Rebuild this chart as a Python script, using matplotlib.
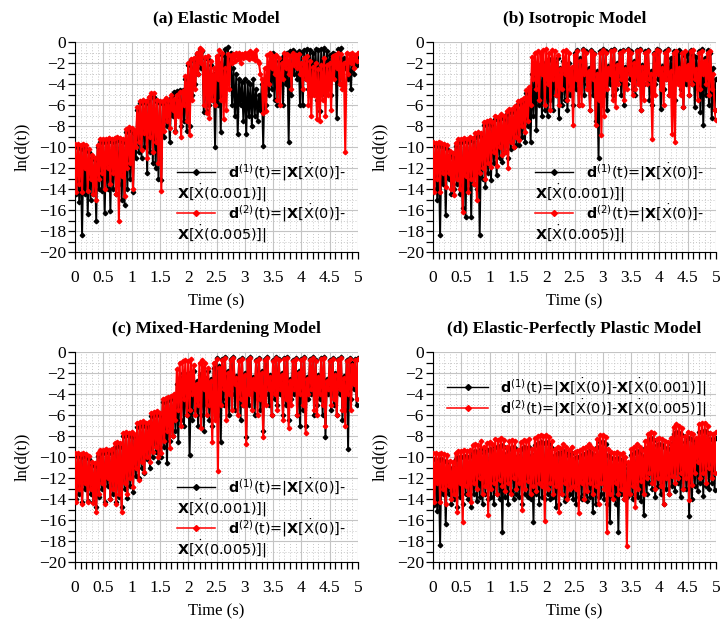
import numpy as np
import matplotlib
matplotlib.use("Agg")
import matplotlib.pyplot as plt
from matplotlib.lines import Line2D
from matplotlib.ticker import MultipleLocator, FuncFormatter

# sample grid: "top" values at 0, 0.05, ..., 5.0 and "low" values half a step later
TIME_TOP = np.round(np.arange(101) * 0.05, 3)
TIME_LOW = np.round(TIME_TOP[:-1] + 0.025, 3)

# ---------------- (a) Elastic model ----------------
elastic_d1_top = [
    -10.0, -10.0, -10.2, -10.0, -10.2, -10.5, -11.0, -11.2, -10.0, -9.5,
    -9.5, -9.5, -9.4, -9.5, -9.4, -9.3, -9.4, -9.5, -8.6, -8.4,
    -8.5, -8.7, -6.5, -5.8, -5.7, -5.8, -5.5, -5.2, -5.2, -5.7,
    -5.8, -5.8, -5.5, -5.7, -5.3, -4.8, -4.7, -4.6, -4.6, -3.5,
    -2.2, -1.7, -1.6, -1.1, -0.7, -0.9, -1.5, -1.6, -2.2, -3.0,
    -2.5, -2.0, -1.2, -0.7, -0.5, -1.0, -2.5, -3.0, -3.5, -3.8,
    -3.5, -3.8, -4.0, -3.5, -4.5, -5.0, -4.0, -3.5, -2.5, -2.0,
    -1.0, -1.3, -1.8, -1.5, -1.2, -1.0, -0.9, -0.8, -1.0, -0.9,
    -1.0, -0.8, -0.7, -0.8, -1.0, -0.7, -0.8, -0.7, -0.6, -0.9,
    -1.2, -1.0, -1.1, -0.7, -0.6, -1.5, -2.5, -2.0, -1.6, -1.5,
    -1.4]
elastic_d1_low = [
    -14.5, -15.2, -18.4, -14.5, -16.4, -15.0, -14.5, -17.0, -14.0, -14.2,
    -16.3, -14.0, -16.1, -14.0, -14.5, -13.5, -15.0, -15.5, -14.0, -13.0,
    -14.3, -11.0, -10.5, -11.0, -10.0, -12.5, -10.5, -11.5, -12.0, -13.0,
    -13.1, -9.0, -8.0, -9.5, -7.0, -8.5, -6.5, -8.0, -7.5, -8.5,
    -8.0, -5.0, -4.0, -3.0, -2.5, -6.7, -6.6, -6.0, -5.5, -10.0,
    -6.0, -8.6, -5.0, -3.0, -2.5, -6.0, -7.0, -8.8, -6.0, -7.5,
    -8.8, -7.0, -8.0, -7.0, -7.5, -6.5, -9.9, -6.0, -5.0, -4.5,
    -5.5, -6.0, -4.0, -6.0, -4.0, -9.5, -5.0, -3.0, -3.5, -6.0,
    -6.0, -3.5, -4.5, -5.0, -3.5, -5.5, -6.6, -4.5, -5.0, -3.0,
    -5.0, -3.0, -7.2, -4.0, -3.0, -2.5, -3.5, -4.5, -3.0, -2.2]
elastic_d2_top = [
    -9.7, -9.7, -9.8, -9.7, -9.8, -10.2, -10.8, -11.0, -9.8, -9.2,
    -9.2, -9.2, -9.1, -9.2, -9.1, -9.0, -9.1, -9.2, -8.3, -8.1,
    -8.2, -8.4, -6.2, -5.6, -5.5, -5.6, -5.2, -4.9, -4.9, -5.5,
    -5.6, -5.6, -5.3, -5.5, -5.0, -5.4, -5.0, -4.8, -4.7, -3.2,
    -2.0, -1.6, -1.5, -1.0, -0.6, -0.8, -1.4, -1.3, -1.8, -2.5,
    -1.3, -0.8, -1.0, -2.5, -1.1, -1.3, -1.1, -1.0, -1.0, -1.1,
    -1.0, -1.0, -0.9, -1.0, -0.8, -2.0, -3.5, -2.5, -1.2, -1.0,
    -1.3, -1.2, -1.5, -2.0, -1.0, -1.1, -1.3, -1.0, -1.2, -1.1,
    -2.0, -1.5, -1.3, -1.8, -2.4, -2.0, -2.6, -2.2, -1.5, -2.2,
    -2.0, -1.3, -1.2, -1.0, -1.1, -2.0, -1.0, -1.1, -1.0, -1.2,
    -1.0]
elastic_d2_low = [
    -14.3, -13.5, -14.3, -12.0, -14.2, -13.0, -14.5, -15.0, -13.0, -12.5,
    -14.0, -12.0, -13.5, -12.5, -14.5, -17.0, -12.8, -14.7, -12.0, -11.5,
    -14.0, -10.0, -9.5, -10.3, -8.7, -11.0, -9.0, -10.5, -9.5, -11.5,
    -14.2, -8.5, -7.5, -8.2, -6.5, -8.6, -7.0, -9.0, -6.0, -7.5,
    -8.9, -5.5, -4.5, -3.0, -2.0, -6.0, -6.8, -7.2, -5.5, -6.0,
    -3.5, -5.5, -7.3, -6.5, -4.5, -2.0, -1.8, -1.6, -2.0, -1.5,
    -1.4, -1.6, -1.5, -1.7, -1.8, -3.0, -6.8, -6.6, -4.0, -2.5,
    -3.0, -5.5, -6.0, -3.5, -2.5, -3.0, -4.5, -2.2, -2.5, -3.0,
    -4.5, -3.5, -6.0, -7.0, -5.0, -7.3, -7.5, -5.5, -7.0, -5.0,
    -6.5, -3.5, -2.5, -4.0, -4.5, -10.5, -3.0, -2.0, -2.5, -1.8]

# ---------------- (b) Isotropic model ----------------
iso_d1_top = [
    -9.8, -9.9, -9.8, -9.9, -10.0, -10.2, -10.8, -11.0, -9.9, -9.5,
    -9.5, -9.4, -9.5, -9.3, -9.4, -9.0, -8.9, -9.0, -7.9, -7.8,
    -7.7, -7.9, -7.3, -7.4, -7.2, -7.3, -6.9, -6.7, -6.7, -6.4,
    -5.9, -5.8, -5.6, -4.9, -4.6, -3.0, -2.5, -2.2, -2.5, -2.0,
    -2.2, -1.6, -1.8, -2.0, -1.5, -2.5, -1.8, -2.3, -2.0, -2.8,
    -1.0, -0.8, -1.5, -0.7, -0.9, -2.5, -0.8, -1.0, -2.8, -0.9,
    -0.7, -0.9, -2.3, -0.8, -0.7, -2.0, -0.9, -0.8, -2.4, -0.7,
    -0.9, -1.8, -0.8, -0.7, -2.2, -0.9, -0.8, -2.8, -1.0, -0.7,
    -0.8, -2.3, -0.9, -0.7, -1.5, -0.9, -1.2, -0.8, -1.0, -1.3,
    -1.0, -0.8, -1.2, -1.4, -0.9, -0.7, -1.5, -0.8, -1.0, -2.5,
    -3.5]
iso_d1_low = [
    -14.0, -15.0, -18.4, -13.5, -16.5, -13.0, -14.5, -14.0, -13.5, -14.5,
    -15.8, -16.7, -14.0, -16.7, -13.5, -14.0, -18.4, -13.0, -13.8, -12.5,
    -13.1, -11.5, -12.7, -11.0, -11.4, -10.5, -11.0, -10.2, -10.0, -9.8,
    -9.8, -9.0, -9.5, -8.0, -9.5, -7.0, -8.4, -6.0, -7.0, -6.5,
    -7.0, -5.5, -6.5, -5.0, -7.2, -6.0, -5.5, -6.5, -5.0, -6.0,
    -4.5, -6.0, -3.5, -5.0, -4.0, -6.5, -5.0, -7.5, -11.0, -6.0,
    -5.0, -6.5, -4.0, -5.0, -4.5, -3.5, -5.0, -6.0, -4.0, -3.5,
    -4.5, -5.0, -3.5, -6.5, -4.0, -3.5, -5.5, -6.0, -4.0, -3.5,
    -6.4, -4.5, -3.5, -5.0, -4.0, -5.5, -3.5, -4.5, -6.2, -4.0,
    -5.0, -4.0, -6.2, -4.5, -6.7, -7.9, -5.0, -6.0, -7.2, -6.5]
iso_d2_top = [
    -9.5, -9.6, -9.5, -9.6, -9.7, -9.8, -10.4, -10.6, -9.6, -9.2,
    -9.2, -9.1, -9.2, -9.0, -9.1, -8.7, -8.6, -8.7, -7.6, -7.5,
    -7.4, -7.6, -7.0, -7.1, -6.9, -7.0, -6.6, -6.4, -6.4, -6.1,
    -5.6, -5.5, -5.3, -4.6, -4.3, -1.4, -1.0, -0.9, -1.0, -0.8,
    -0.7, -1.0, -0.8, -0.9, -1.2, -2.6, -0.9, -0.8, -1.0, -2.4,
    -1.2, -0.9, -1.8, -0.8, -1.0, -2.8, -0.9, -1.1, -3.0, -1.0,
    -0.8, -1.0, -2.5, -0.9, -0.8, -2.2, -1.0, -0.9, -2.6, -0.8,
    -1.0, -2.0, -0.9, -0.8, -2.4, -1.0, -0.9, -3.0, -1.1, -0.8,
    -0.9, -2.5, -1.0, -0.8, -2.8, -1.0, -0.9, -2.5, -1.0, -0.9,
    -2.2, -0.9, -0.8, -2.6, -1.0, -0.9, -1.8, -1.0, -0.9, -3.0,
    -7.4]
iso_d2_low = [
    -14.3, -13.0, -14.3, -12.5, -13.8, -12.5, -14.0, -14.6, -13.0, -14.0,
    -16.2, -12.8, -14.3, -13.0, -13.5, -15.0, -12.5, -12.0, -13.0, -11.5,
    -11.9, -10.5, -11.8, -10.0, -10.8, -10.5, -12.0, -9.5, -10.0, -9.0,
    -9.3, -8.0, -8.6, -7.5, -6.0, -3.5, -4.5, -5.5, -3.0, -6.0,
    -4.0, -6.5, -3.5, -5.0, -6.0, -4.5, -3.0, -5.5, -4.5, -7.9,
    -3.5, -6.0, -6.0, -3.0, -4.5, -6.5, -3.5, -7.9, -5.5, -8.9,
    -7.0, -4.5, -3.0, -5.5, -6.2, -4.0, -3.5, -5.5, -4.5, -3.0,
    -5.0, -4.5, -4.0, -6.5, -5.5, -4.0, -3.5, -9.2, -5.0, -3.0,
    -4.5, -6.0, -3.5, -5.0, -8.8, -9.5, -4.0, -5.0, -6.2, -3.5,
    -5.0, -4.0, -3.5, -5.5, -4.5, -3.0, -4.0, -5.0, -4.5, -6.5]

# ---------------- (c) Mixed-hardening model ----------------
mixed_d1_top = [
    -9.9, -9.9, -10.0, -9.9, -10.0, -10.2, -10.8, -10.9, -9.9, -9.6,
    -9.6, -9.5, -9.6, -9.5, -9.0, -8.9, -9.0, -8.0, -7.9, -8.0,
    -7.9, -8.1, -7.1, -7.0, -6.9, -7.1, -7.0, -6.1, -6.0, -5.9,
    -6.1, -4.8, -4.7, -4.6, -4.5, -4.3, -3.0, -2.5, -2.0, -2.3,
    -2.0, -2.5, -1.8, -2.8, -2.2, -2.0, -2.5, -1.8, -2.6, -1.5,
    -0.6, -1.3, -0.7, -0.5, -1.8, -0.7, -0.5, -2.3, -0.8, -0.6,
    -2.0, -0.7, -0.5, -2.4, -0.8, -0.6, -1.8, -0.7, -0.5, -2.2,
    -0.8, -0.5, -0.7, -2.0, -0.6, -0.5, -2.6, -0.8, -0.6, -1.8,
    -0.7, -0.5, -2.4, -0.7, -0.5, -0.8, -2.2, -0.6, -0.5, -2.6,
    -0.8, -0.6, -2.0, -0.7, -0.5, -2.3, -0.8, -0.6, -1.0, -0.7,
    -0.6]
mixed_d1_low = [
    -14.0, -13.5, -14.3, -13.0, -14.2, -13.5, -14.3, -14.8, -13.8, -13.0,
    -14.3, -12.8, -14.0, -13.5, -14.3, -13.8, -14.8, -13.0, -13.9, -12.8,
    -13.3, -11.8, -12.0, -11.0, -11.5, -10.2, -11.0, -10.0, -9.5, -10.5,
    -10.0, -9.0, -10.6, -8.5, -8.0, -7.5, -8.6, -6.5, -7.0, -6.0,
    -9.8, -6.5, -5.5, -7.0, -6.0, -7.5, -5.0, -6.5, -7.0, -5.5,
    -6.0, -8.6, -5.0, -4.5, -6.0, -4.0, -5.5, -3.5, -6.5, -5.0,
    -8.1, -5.0, -4.0, -6.0, -4.5, -5.5, -7.5, -4.0, -5.0, -6.0,
    -4.5, -5.0, -4.0, -6.0, -5.0, -6.5, -4.5, -4.0, -6.0, -7.0,
    -5.5, -7.0, -4.5, -4.0, -6.0, -5.0, -4.5, -6.0, -8.1, -4.0,
    -5.5, -5.0, -6.0, -4.0, -6.5, -5.5, -9.2, -4.5, -3.5, -5.0]
mixed_d2_top = [
    -9.6, -9.6, -9.7, -9.6, -9.7, -9.9, -10.5, -10.6, -9.6, -9.3,
    -9.3, -9.2, -9.3, -9.2, -8.7, -8.6, -8.7, -7.7, -7.6, -7.7,
    -7.6, -7.8, -6.8, -6.7, -6.6, -6.8, -6.7, -5.8, -5.7, -5.6,
    -5.8, -4.5, -4.4, -4.3, -4.2, -4.0, -1.6, -1.0, -0.9, -0.8,
    -0.9, -0.7, -1.2, -3.0, -1.0, -0.8, -1.0, -1.5, -2.8, -1.0,
    -0.7, -1.5, -0.8, -0.6, -2.0, -0.8, -0.6, -2.5, -0.9, -0.7,
    -2.2, -0.8, -0.6, -2.6, -0.9, -0.7, -2.0, -0.8, -0.6, -2.4,
    -0.9, -0.6, -0.8, -2.2, -0.7, -0.6, -2.8, -0.9, -0.7, -2.0,
    -0.8, -0.6, -2.6, -0.8, -0.6, -0.9, -2.4, -0.7, -0.6, -2.8,
    -0.9, -0.7, -2.2, -0.8, -0.6, -2.5, -0.9, -0.7, -1.2, -0.8,
    -0.7]
mixed_d2_low = [
    -14.3, -13.0, -14.5, -12.5, -14.3, -13.0, -14.4, -15.2, -13.5, -12.5,
    -14.5, -12.0, -14.0, -13.0, -14.5, -13.5, -15.2, -12.5, -13.5, -12.0,
    -12.9, -11.0, -12.2, -10.5, -11.4, -10.0, -10.5, -9.5, -9.0, -10.0,
    -9.6, -8.5, -7.5, -9.1, -8.0, -6.5, -5.5, -7.0, -4.5, -6.0,
    -5.5, -4.0, -6.0, -5.0, -7.2, -3.5, -6.0, -5.0, -8.6, -6.5,
    -11.3, -5.0, -3.5, -6.5, -4.0, -5.5, -3.0, -6.0, -4.5, -5.0,
    -8.8, -4.0, -5.5, -3.5, -6.0, -4.5, -8.1, -5.0, -3.5, -6.0,
    -4.0, -5.5, -3.5, -6.5, -4.5, -7.2, -5.0, -3.5, -6.0, -4.0,
    -5.0, -7.7, -4.0, -3.5, -5.5, -6.0, -4.0, -5.0, -7.0, -3.5,
    -5.0, -4.5, -6.0, -3.5, -5.5, -7.0, -4.0, -5.5, -3.0, -4.5]

# ---------------- (d) Elastic-perfectly plastic model ----------------
epp_d1_top = [
    -10.2, -10.3, -10.3, -10.2, -10.4, -10.5, -11.0, -11.0, -10.2, -10.0,
    -10.0, -9.9, -10.0, -9.9, -9.5, -9.4, -9.6, -9.2, -9.6, -9.3,
    -9.2, -9.4, -9.0, -9.1, -8.9, -9.0, -9.6, -9.2, -9.0, -9.1,
    -9.9, -9.2, -9.0, -9.1, -9.0, -9.8, -8.9, -8.7, -8.6, -8.7,
    -8.6, -8.8, -9.1, -9.8, -9.6, -9.7, -9.4, -9.6, -9.9, -9.6,
    -10.1, -10.0, -9.9, -9.7, -9.6, -9.4, -9.6, -9.8, -9.0, -8.6,
    -8.6, -8.8, -9.8, -10.1, -10.2, -10.1, -10.3, -10.2, -10.6, -11.0,
    -9.8, -9.6, -9.4, -9.6, -9.9, -9.1, -8.4, -8.2, -8.4, -8.9,
    -8.8, -8.9, -9.1, -9.2, -8.8, -7.8, -7.6, -7.7, -7.9, -8.6,
    -8.2, -8.3, -8.4, -8.8, -7.6, -7.5, -7.5, -7.7, -8.3, -8.4,
    -8.2]
epp_d1_low = [
    -14.6, -15.1, -18.4, -13.5, -16.4, -13.5, -14.5, -14.0, -14.8, -13.8,
    -14.5, -13.5, -14.0, -14.8, -13.5, -14.2, -13.8, -14.5, -13.5, -14.0,
    -13.8, -14.5, -13.5, -14.0, -17.1, -13.8, -14.5, -13.2, -14.0, -13.5,
    -13.8, -14.5, -13.5, -13.8, -14.0, -16.2, -13.5, -14.5, -13.8, -14.0,
    -13.5, -14.0, -13.8, -14.8, -14.5, -13.5, -14.2, -13.8, -13.5, -14.0,
    -14.5, -13.8, -14.0, -13.5, -14.2, -13.8, -15.2, -14.5, -13.8, -13.5,
    -14.0, -14.5, -16.2, -13.8, -14.5, -17.1, -13.5, -14.0, -13.8, -13.5,
    -14.0, -13.5, -13.8, -14.2, -15.5, -13.5, -12.5, -13.0, -13.8, -12.8,
    -13.5, -14.5, -13.0, -13.5, -12.8, -13.2, -12.5, -13.8, -13.0, -13.0,
    -15.6, -14.0, -12.8, -13.2, -12.5, -13.7, -12.8, -13.0, -12.5, -13.1]
epp_d2_top = [
    -9.6, -9.6, -9.7, -9.6, -9.7, -9.8, -10.4, -10.5, -9.6, -9.4,
    -9.4, -9.3, -9.4, -9.3, -8.9, -8.8, -8.9, -8.5, -9.0, -8.7,
    -8.6, -8.8, -8.3, -8.4, -8.2, -8.4, -9.0, -8.5, -8.4, -8.5,
    -9.3, -8.6, -8.4, -8.5, -8.3, -9.2, -8.2, -8.0, -7.9, -8.0,
    -7.9, -8.1, -8.5, -9.2, -9.0, -9.1, -8.8, -9.0, -9.3, -9.0,
    -9.5, -9.4, -9.3, -9.1, -9.0, -8.8, -9.0, -9.2, -8.3, -7.9,
    -7.9, -8.1, -9.2, -9.5, -9.6, -9.5, -9.7, -9.6, -10.0, -10.5,
    -9.2, -9.0, -8.8, -9.0, -9.3, -8.5, -7.8, -7.6, -7.7, -8.3,
    -8.2, -8.3, -8.5, -8.6, -8.2, -7.1, -6.9, -7.0, -7.2, -8.0,
    -7.6, -7.7, -7.8, -8.2, -6.9, -6.8, -6.8, -7.0, -7.7, -7.8,
    -7.6]
epp_d2_low = [
    -14.3, -12.5, -14.3, -13.0, -14.5, -12.8, -14.0, -13.5, -15.2, -12.5,
    -16.2, -12.8, -13.5, -14.3, -12.5, -13.0, -12.0, -13.5, -12.8, -15.5,
    -13.0, -12.5, -13.5, -12.2, -12.8, -13.2, -12.5, -13.5, -12.0, -13.0,
    -12.5, -15.0, -13.0, -12.3, -13.5, -12.8, -13.2, -12.5, -12.8, -16.1,
    -13.0, -12.5, -13.5, -12.8, -15.2, -13.5, -12.5, -14.0, -13.0, -12.8,
    -13.0, -15.3, -12.5, -14.0, -13.2, -12.5, -13.5, -12.8, -14.5, -12.5,
    -13.0, -17.1, -13.5, -14.0, -12.5, -13.5, -13.0, -14.0, -18.5, -13.5,
    -12.8, -14.8, -13.0, -12.3, -13.5, -12.0, -11.5, -12.5, -13.0, -12.0,
    -12.8, -14.5, -12.0, -13.5, -11.8, -12.5, -12.0, -11.5, -13.0, -12.0,
    -14.1, -12.7, -11.5, -10.5, -12.0, -11.5, -12.5, -11.0, -12.0, -11.5]

panels = [
    ("(a) Elastic Model", elastic_d1_top, elastic_d1_low, elastic_d2_top, elastic_d2_low),
    ("(b) Isotropic Model", iso_d1_top, iso_d1_low, iso_d2_top, iso_d2_low),
    ("(c) Mixed-Hardening Model", mixed_d1_top, mixed_d1_low, mixed_d2_top, mixed_d2_low),
    ("(d) Elastic-Perfectly Plastic Model", epp_d1_top, epp_d1_low, epp_d2_top, epp_d2_low),
]

# axes rectangles in figure fractions (figure 724 x 620 px)
W, H = 724.0, 620.0
rects = [
    (75 / W, 1 - 252 / H, 283 / W, 210 / H),
    (433 / W, 1 - 252 / H, 283 / W, 210 / H),
    (75 / W, 1 - 562 / H, 283 / W, 210 / H),
    (433 / W, 1 - 562 / H, 283 / W, 210 / H),
]

LAB1A = r"$\mathbf{d}^{(1)}$(t)=|$\mathbf{X}$[$\dot{\mathrm{X}}$(0)]-"
LAB1B = r"$\mathbf{X}$[$\dot{\mathrm{X}}$(0.001)]|"
LAB2A = r"$\mathbf{d}^{(2)}$(t)=|$\mathbf{X}$[$\dot{\mathrm{X}}$(0)]-"
LAB2B = r"$\mathbf{X}$[$\dot{\mathrm{X}}$(0.005)]|"

SERIF = ["Liberation Serif", "DejaVu Serif"]
plt.rcParams["mathtext.fontset"] = "dejavusans"


def interleave(top, low):
    t = np.empty(len(top) + len(low))
    y = np.empty(len(top) + len(low))
    t[0::2] = TIME_TOP
    t[1::2] = TIME_LOW
    y[0::2] = top
    y[1::2] = low
    return t, y


def draw_key(ax, x0, x1, y, color, lw):
    ax.add_line(Line2D([x0, x1], [y, y], color=color, lw=lw, transform=ax.transAxes, clip_on=False))
    ax.add_line(Line2D([(x0 + x1) / 2], [y], color=color, marker="D", markersize=3,
                       transform=ax.transAxes, clip_on=False))


fig = plt.figure(figsize=(7.24, 6.2), dpi=100)

for i, (title, b_top, b_low, r_top, r_low) in enumerate(panels):
    ax = fig.add_axes(rects[i])
    t1, y1 = interleave(b_top, b_low)
    t2, y2 = interleave(r_top, r_low)
    ax.plot(t1, y1, color="black", lw=1.4, marker="D", markersize=2.3, zorder=3)
    ax.plot(t2, y2, color="red", lw=1.5, marker="D", markersize=2.3, zorder=4)

    ax.set_xlim(0, 5)
    ax.set_ylim(-20, 0)
    ax.xaxis.set_major_locator(MultipleLocator(0.5))
    ax.xaxis.set_minor_locator(MultipleLocator(0.1))
    ax.yaxis.set_major_locator(MultipleLocator(2))
    ax.yaxis.set_minor_locator(MultipleLocator(1))
    ax.xaxis.set_major_formatter(FuncFormatter(lambda v, p: "%g" % v))
    ax.yaxis.set_major_formatter(FuncFormatter(lambda v, p: ("%g" % v).replace("-", "\u2212")))
    ax.grid(which="major", color="#c4c4c4", lw=0.8, ls="-", zorder=0)
    ax.grid(which="minor", color="#c8c8c8", lw=0.7, ls=(0, (1, 2)), zorder=0)
    ax.set_axisbelow(True)
    for s in ("top", "right"):
        ax.spines[s].set_visible(False)
    ax.tick_params(which="both", direction="out", length=5, width=0.9, colors="black")
    ax.tick_params(axis="x", which="major", labelsize=12.5, pad=8)
    ax.tick_params(axis="y", which="major", labelsize=12.5, pad=1.5)
    for lab in ax.get_xticklabels() + ax.get_yticklabels():
        lab.set_fontfamily(SERIF)

    ax.set_title(title, fontsize=12.5, fontweight="bold", family=SERIF, pad=14)
    ax.set_xlabel("Time (s)", fontsize=12, family=SERIF, labelpad=5)
    ax.set_ylabel("ln(d(t))", fontsize=12, family=SERIF, labelpad=6)

    # gnuplot-style key
    tk = dict(fontsize=10.4, family="DejaVu Sans", va="center", ha="left", transform=ax.transAxes)
    if i < 3:
        dy = 0.0 if i < 2 else -0.024
        x0, x1, xt = 0.36, 0.495, 0.54
        ys = [0.381 + dy, 0.281 + dy, 0.186 + dy, 0.086 + dy]
        draw_key(ax, x0, x1, ys[0], "black", 1.0)
        ax.text(xt, ys[0], LAB1A, **tk)
        ax.text(x0, ys[1], LAB1B, **tk)
        draw_key(ax, x0, x1, ys[2], "red", 1.1)
        ax.text(xt, ys[2], LAB2A, **tk)
        ax.text(x0, ys[3], LAB2B, **tk)
    else:
        x0, x1, xt = 0.05, 0.194, 0.237
        draw_key(ax, x0, x1, 0.835, "black", 1.0)
        ax.text(xt, 0.835, LAB1A + LAB1B, **tk)
        draw_key(ax, x0, x1, 0.733, "red", 1.1)
        ax.text(xt, 0.733, LAB2A + LAB2B, **tk)

fig.savefig("out.png", dpi=100)
